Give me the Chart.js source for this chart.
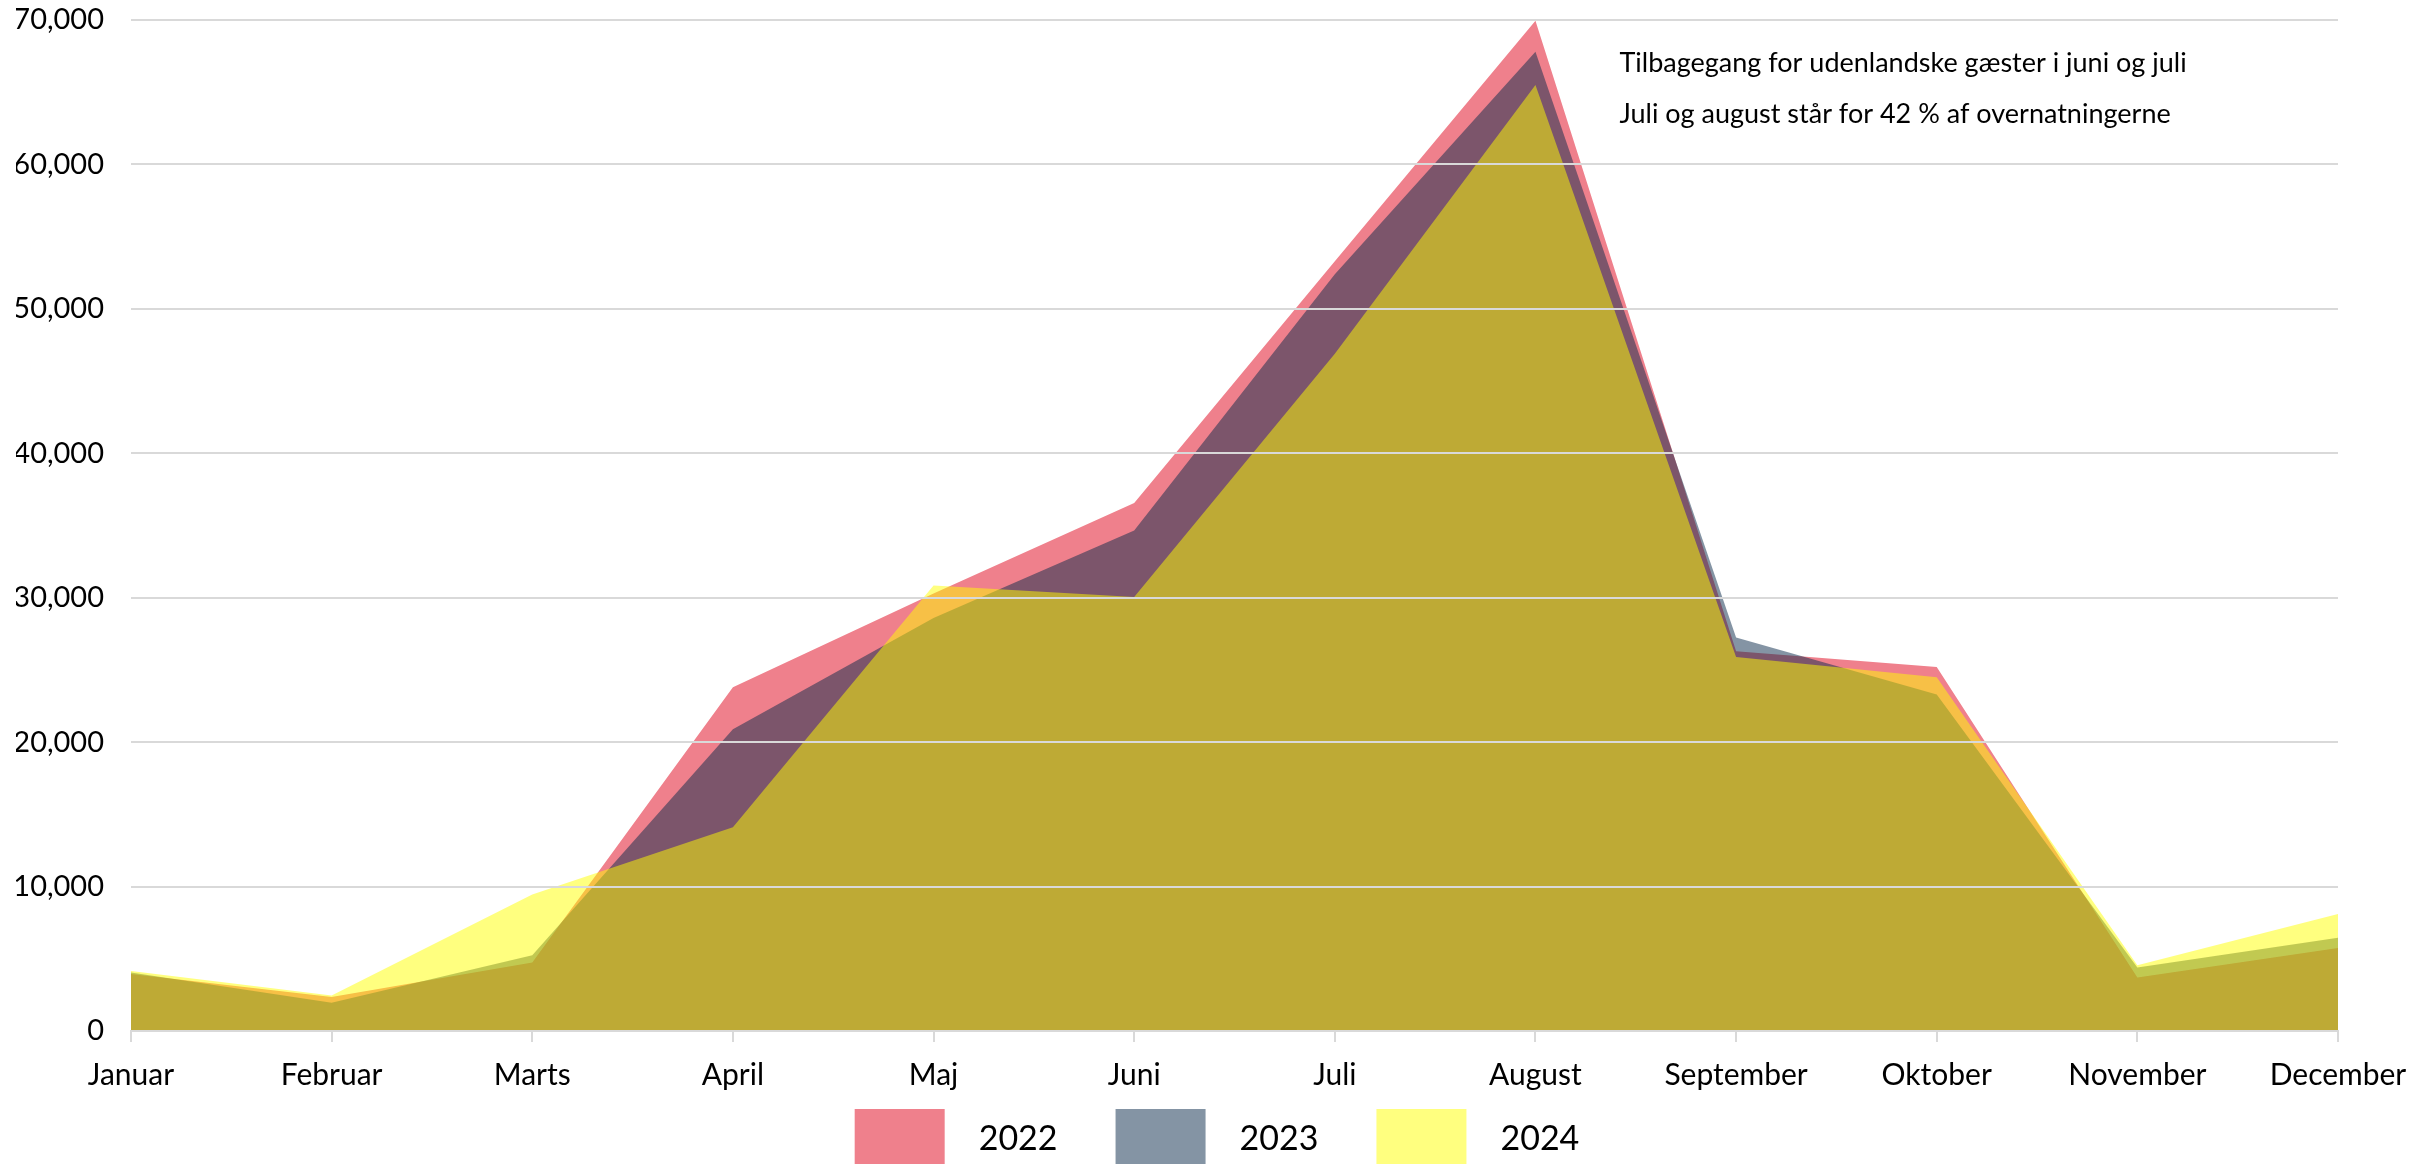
<!DOCTYPE html>
<html>
<head>
<meta charset="utf-8">
<title>Overnatninger 2022-2024</title>
<script src="https://cdn.jsdelivr.net/npm/chart.js@4.4.1/dist/chart.umd.min.js"></script>
<style>
  html, body { margin: 0; padding: 0; background: #fff; overflow: hidden; }
  #wrap { width: 2423px; height: 1164px; }
</style>
</head>
<body>
<div id="wrap"><canvas id="overnatningerChart"></canvas></div>
<script>
// months on the x axis
var months = ['Januar', 'Februar', 'Marts', 'April', 'Maj', 'Juni', 'Juli', 'August', 'September', 'Oktober', 'November', 'December'];

// values
var values2022 = [3950, 2350, 4750, 23800, 30300, 36550, 53300, 69950, 26300, 25200, 3700, 5750];
var values2023 = [4050, 1950, 5250, 20900, 28600, 34650, 52400, 67800, 27250, 23300, 4400, 6450];
var values2024 = [4150, 2450, 9450, 14100, 30850, 30050, 46900, 65500, 25900, 24500, 4550, 8100];

var yTicks = [0, 10000, 20000, 30000, 40000, 50000, 60000, 70000];

var notes = [
    'Tilbagegang for udenlandske gæster i juni og juli',
    'Juli og august står for 42 % af overnatningerne'
];

var gridColor = '#d9d9d9';
var fontFamily = 'Lato, "Open Sans", sans-serif';

// grid lines sit on top of 2022/2023 but under the yellow 2024 area
var gridBetween = {
    id: 'gridBetween',
    beforeDatasetDraw: function(chart, args) {
        if (args.index === 2) {
            chart.scales.y.drawGrid(chart.chartArea);
        }
    }
};

// legend padding is big for the gaps between items, so keep its box short
// and stretch it upwards so the boxes run off the bottom edge like in the original
var legendPlace = {
    id: 'legendPlace',
    afterInit: function(chart) {
        var legend = chart.legend;
        var fit = legend.fit;
        legend.fit = function() {
            fit.call(this);
            this.height = 56;
        };
    },
    afterLayout: function(chart) {
        var legend = chart.legend;
        legend.top -= 57;
        legend.left += 40;
        legend.right += 40;
    }
};

var notesPlugin = {
    id: 'notes',
    afterDraw: function(chart) {
        var ctx = chart.ctx;
        var x = chart.scales.x.getPixelForValue(7) + 84;
        ctx.save();
        ctx.font = '27px ' + fontFamily;
        ctx.fillStyle = '#000';
        ctx.textBaseline = 'middle';
        ctx.fillText(notes[0], x, chart.scales.y.getPixelForValue(67000));
        ctx.fillText(notes[1], x, chart.scales.y.getPixelForValue(63500));
        ctx.restore();
    }
};

var ctx = document.getElementById('overnatningerChart').getContext('2d');
var overnatningerChart = new Chart(ctx, {
    type: 'line',
    data: {
        labels: months,
        datasets: [{
            label: '2022',
            data: values2022,
            backgroundColor: 'rgb(239, 128, 140)',
            borderWidth: 0,
            fill: 'origin',
            pointRadius: 0,
            order: 2
        }, {
            label: '2023',
            data: values2023,
            backgroundColor: 'rgba(9, 41, 73, 0.5)',
            borderWidth: 0,
            fill: 'origin',
            pointRadius: 0,
            order: 1
        }, {
            label: '2024',
            data: values2024,
            backgroundColor: 'rgba(255, 255, 0, 0.5)',
            borderWidth: 0,
            fill: 'origin',
            pointRadius: 0,
            order: 0
        }]
    },
    options: {
        responsive: true,
        maintainAspectRatio: false,
        animation: false,
        layout: {
            autoPadding: false,
            padding: { left: 16, right: 85, top: 20, bottom: 0 }
        },
        scales: {
            x: {
                offset: false,
                grid: {
                    display: true,
                    drawOnChartArea: false,
                    drawTicks: true,
                    tickLength: 11,
                    color: gridColor,
                    lineWidth: 2
                },
                border: { display: true, color: gridColor, width: 2 },
                ticks: {
                    color: '#000',
                    padding: 15,
                    maxRotation: 0,
                    autoSkip: false,
                    font: { family: fontFamily, size: 30 }
                }
            },
            y: {
                min: 0,
                max: 70000,
                afterBuildTicks: function(axis) {
                    axis.ticks = yTicks.map(function(v) { return { value: v }; });
                },
                afterFit: function(axis) {
                    axis.width = 115;
                    axis.paddingTop = 0;
                },
                grid: {
                    color: gridColor,
                    lineWidth: 2,
                    drawTicks: false
                },
                border: { display: false },
                ticks: {
                    color: '#000',
                    padding: 27,
                    font: { family: fontFamily, size: 29 },
                    callback: function(value) {
                        return value.toLocaleString('en-US');
                    }
                }
            }
        },
        plugins: {
            legend: {
                position: 'bottom',
                labels: {
                    boxWidth: 90,
                    boxHeight: 60,
                    padding: 58,
                    color: '#000',
                    font: { family: fontFamily, size: 34 },
                    sort: function(a, b) { return a.datasetIndex - b.datasetIndex; },
                    generateLabels: function(chart) {
                        var items = Chart.defaults.plugins.legend.labels.generateLabels(chart);
                        items.forEach(function(item) {
                            item.text = '\u2002' + item.text;
                        });
                        return items;
                    }
                }
            },
            tooltip: { enabled: false }
        }
    },
    plugins: [gridBetween, legendPlace, notesPlugin]
});
</script>
</body>
</html>
